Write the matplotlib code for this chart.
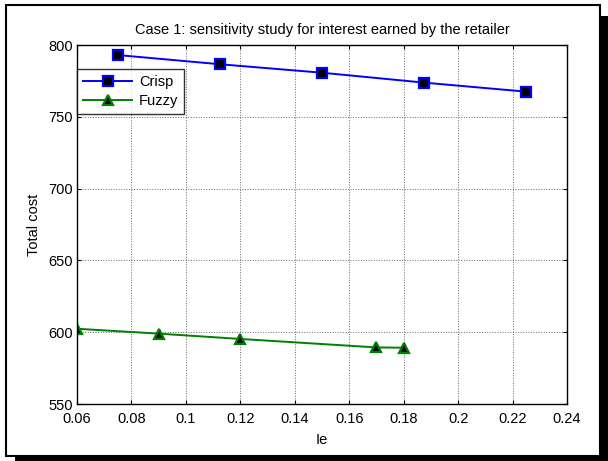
import matplotlib
matplotlib.use('Agg')
import matplotlib.pyplot as plt
from matplotlib.patches import Rectangle

plt.rcParams['font.family'] = ['Liberation Sans', 'DejaVu Sans']

# data
crisp_ie = [0.075, 0.1125, 0.15, 0.1875, 0.225]
crisp_cost = [793.0, 786.6, 780.7, 773.8, 767.5]
fuzzy_ie = [0.06, 0.09, 0.12, 0.17, 0.18]
fuzzy_cost = [602.4, 599.0, 595.3, 589.4, 589.2]

xticks = [0.06, 0.08, 0.1, 0.12, 0.14, 0.16, 0.18, 0.2, 0.22, 0.24]
xticklabels = ['0.06', '0.08', '0.1', '0.12', '0.14', '0.16', '0.18', '0.2', '0.22', '0.24']
yticks = [550, 600, 650, 700, 750, 800]

W, H = 608, 461
fig = plt.figure(figsize=(W / 100, H / 100), dpi=100)
fig.patch.set_facecolor('white')

# shadowed frame around the whole figure
fig.add_artist(Rectangle((15 / W, 0), 593 / W, 445 / H, transform=fig.transFigure,
                         facecolor='black', edgecolor='none', zorder=0))
fig.add_artist(Rectangle((5.5 / W, 5.5 / H), 594.5 / W, 450 / H, transform=fig.transFigure,
                         facecolor='white', edgecolor='black', linewidth=1.5, zorder=0.5))

ax = fig.add_axes([77 / W, 57 / H, 490 / W, 359 / H])
ax.set_zorder(1)

ax.plot(crisp_ie, crisp_cost, color='#0000ff', linewidth=1.4, marker='s',
        markersize=6.5, markerfacecolor='black', markeredgecolor='#0000ff',
        markeredgewidth=1.6, label='Crisp')
ax.plot(fuzzy_ie, fuzzy_cost, color='#008000', linewidth=1.4, marker='^',
        markersize=7, markerfacecolor='black', markeredgecolor='#008000',
        markeredgewidth=1.6, label='Fuzzy')

ax.set_xlim(0.06, 0.24)
ax.set_ylim(550, 800)
ax.set_xticks(xticks)
ax.set_xticklabels(xticklabels)
ax.set_yticks(yticks)
ax.tick_params(direction='in', length=3, width=0.8, top=True, right=True,
               labelsize=10.5)
ax.tick_params(axis='x', pad=6)
ax.tick_params(axis='y', pad=3)
ax.grid(True, color='#666666', linestyle=':', linewidth=0.7)
for s in ax.spines.values():
    s.set_linewidth(1.0)

ax.set_title('Case 1: sensitivity study for interest earned by the retailer',
             fontsize=10.5, pad=8)
ax.set_xlabel('Ie', fontsize=10.5, labelpad=5)
ax.set_ylabel('Total cost', fontsize=10.5, labelpad=5)

leg = ax.legend(loc='upper left', bbox_to_anchor=(0.0, 0.932), fontsize=10.5,
                frameon=True, fancybox=False, edgecolor='black', borderpad=0.4,
                labelspacing=0.35, handlelength=3.4, handletextpad=0.45,
                borderaxespad=0)
leg.get_frame().set_linewidth(1.0)

plt.savefig('out.png', dpi=100)
